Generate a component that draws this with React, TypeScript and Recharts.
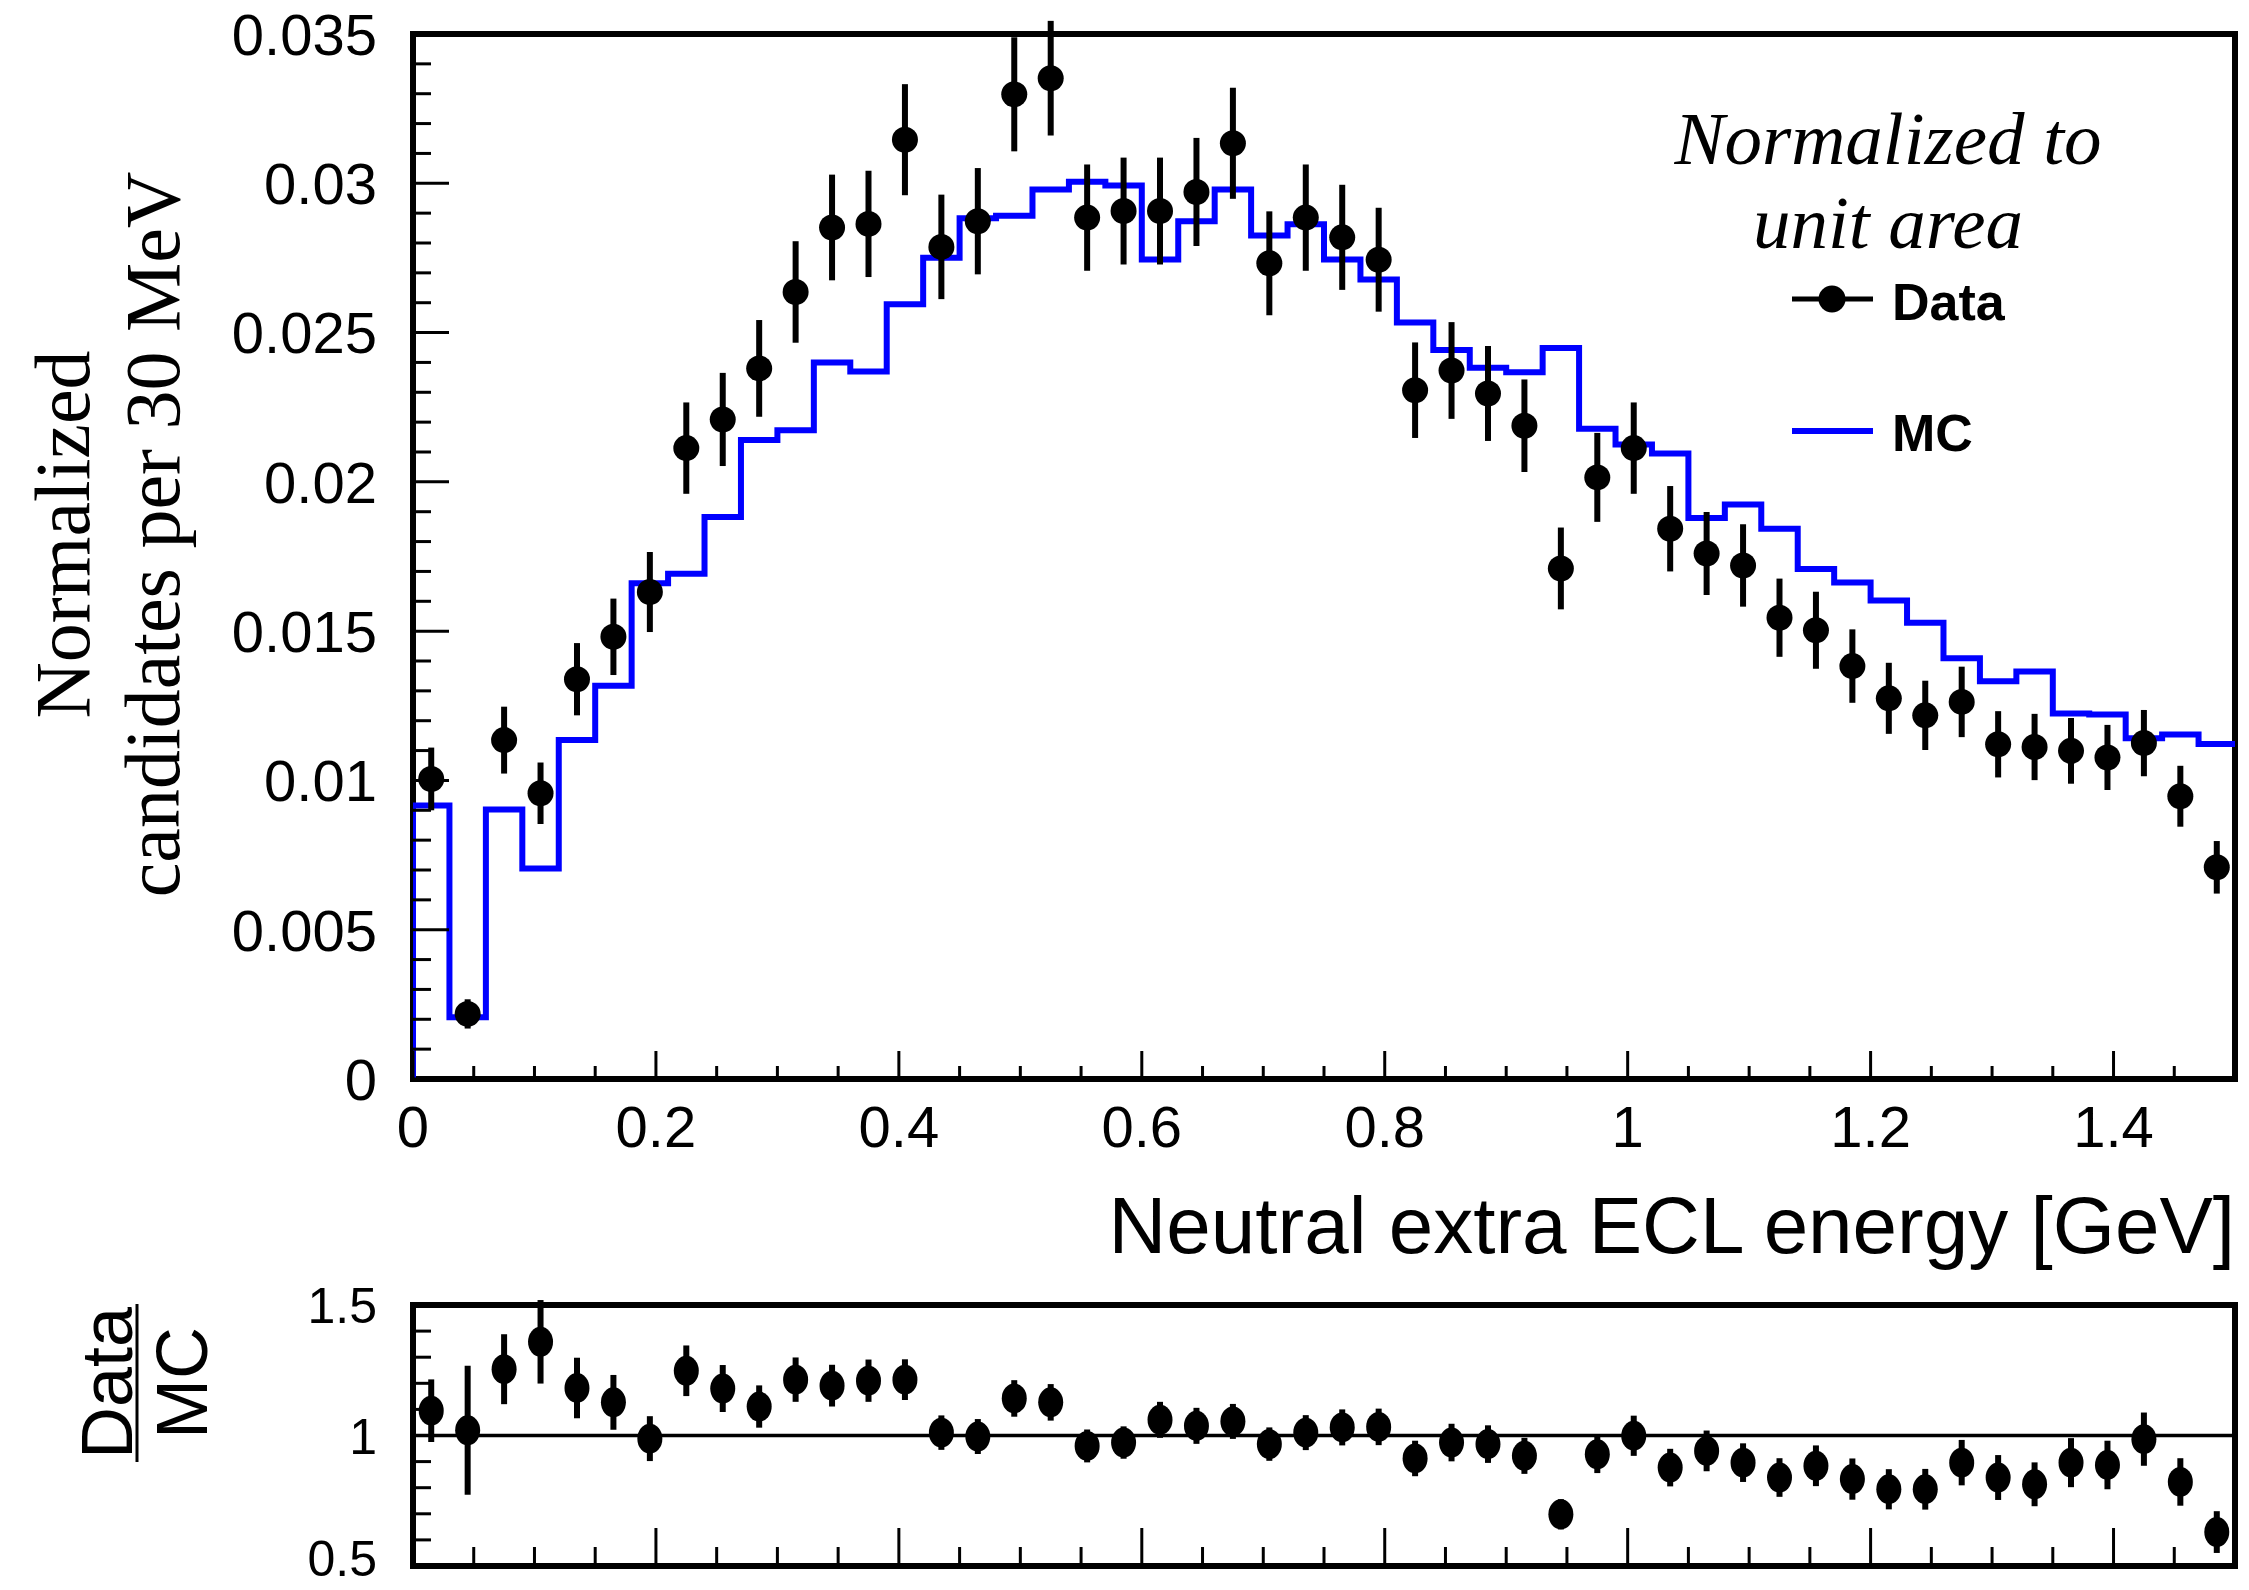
import React from 'react';
import {
  ComposedChart,
  Line,
  Scatter,
  ErrorBar,
  XAxis,
  YAxis,
  ReferenceLine,
  ReferenceArea,
  Legend,
  Label,
} from 'recharts';

// 50 bins of 30 MeV between 0 and 1.5 GeV
const binWidth = 0.03;

const dataValues = [
  0.01005, 0.00218, 0.01135, 0.00957, 0.01339, 0.01481, 0.01631, 0.02113, 0.02209, 0.0238,
  0.02636, 0.02852, 0.02864, 0.03146, 0.02787, 0.02873, 0.03298, 0.03352, 0.02885, 0.02907,
  0.02907, 0.02971, 0.03134, 0.02732, 0.02885, 0.02819, 0.02744, 0.02307, 0.02373, 0.02296,
  0.02188, 0.0171, 0.02015, 0.02113, 0.01843, 0.0176, 0.0172, 0.01545, 0.01503, 0.01383,
  0.01275, 0.01218, 0.01263, 0.01121, 0.01112, 0.01099, 0.01077, 0.01125, 0.00947, 0.00709,
];

const dataErrors = [
  0.00105, 0.00049, 0.00112, 0.00103, 0.00121, 0.00128, 0.00134, 0.00153, 0.00156, 0.00162,
  0.0017, 0.00177, 0.00178, 0.00186, 0.00175, 0.00178, 0.00191, 0.00192, 0.00178, 0.00179,
  0.00179, 0.00181, 0.00186, 0.00174, 0.00178, 0.00176, 0.00174, 0.0016, 0.00162, 0.00159,
  0.00155, 0.00137, 0.00149, 0.00153, 0.00143, 0.00139, 0.00138, 0.00131, 0.00129, 0.00123,
  0.00119, 0.00116, 0.00118, 0.00111, 0.00111, 0.0011, 0.00109, 0.00111, 0.00102, 0.00088,
];

const mcValues = [
  0.00916, 0.00207, 0.00903, 0.00705, 0.01135, 0.01317, 0.0166, 0.01692, 0.01882, 0.0214,
  0.02173, 0.024, 0.0237, 0.02595, 0.02751, 0.02883, 0.02891, 0.02979, 0.03005, 0.02993,
  0.02745, 0.02873, 0.02979, 0.02825, 0.02863, 0.02745, 0.02678, 0.02534, 0.02442, 0.02382,
  0.02367, 0.02448, 0.02178, 0.02125, 0.02095, 0.01879, 0.01924, 0.01843, 0.01708, 0.01663,
  0.01603, 0.01528, 0.01409, 0.01332, 0.01365, 0.01224, 0.01221, 0.01141, 0.01154, 0.01122,
];

const ratioValues = [
  1.095, 1.02, 1.254, 1.359, 1.182, 1.127, 0.988, 1.248, 1.18, 1.111,
  1.214, 1.191, 1.21, 1.214, 1.011, 0.996, 1.142, 1.127, 0.96, 0.973,
  1.06, 1.037, 1.054, 0.967, 1.011, 1.031, 1.033, 0.912, 0.973, 0.967,
  0.922, 0.698, 0.928, 0.999, 0.877, 0.941, 0.896, 0.839, 0.884, 0.833,
  0.794, 0.794, 0.896, 0.839, 0.813, 0.896, 0.887, 0.986, 0.822, 0.63,
];

const ratioErrors = [
  0.12, 0.247, 0.134, 0.16, 0.116, 0.105, 0.086, 0.097, 0.09, 0.081,
  0.085, 0.08, 0.081, 0.078, 0.066, 0.067, 0.07, 0.07, 0.063, 0.062,
  0.069, 0.069, 0.067, 0.064, 0.067, 0.069, 0.07, 0.068, 0.072, 0.072,
  0.069, 0.058, 0.072, 0.077, 0.072, 0.078, 0.074, 0.074, 0.078, 0.079,
  0.077, 0.078, 0.087, 0.086, 0.084, 0.094, 0.093, 0.102, 0.091, 0.08,
];

const xMajorTicks = [0, 0.2, 0.4, 0.6, 0.8, 1, 1.2, 1.4];
const xTickLabels = ['0', '0.2', '0.4', '0.6', '0.8', '1', '1.2', '1.4'];
const yMajorTicks = [0, 0.005, 0.01, 0.015, 0.02, 0.025, 0.03, 0.035];
const yTickLabels = ['0', '0.005', '0.01', '0.015', '0.02', '0.025', '0.03', '0.035'];
const ratioMajorTicks = [0.5, 1, 1.5];
const ratioTickLabels = ['0.5', '1', '1.5'];

// minor tick grids (every 0.05 in x, 0.001 in y, 0.1 in ratio)
const xAllTicks = Array.from({ length: 31 }, (_, i) => Math.round(i * 5) / 100);
const yAllTicks = Array.from({ length: 36 }, (_, i) => i / 1000);
const ratioAllTicks = Array.from({ length: 11 }, (_, i) => Math.round(5 + i) / 10);

const dataPoints = dataValues.map((y, i) => ({
  x: (i + 0.5) * binWidth,
  y,
  err: dataErrors[i],
}));

const ratioPoints = ratioValues.map((y, i) => ({
  x: (i + 0.5) * binWidth,
  y,
  err: ratioErrors[i],
}));

// step outline: rise from 0 at the left edge, then one step per bin
const mcSteps = [
  { x: 0, y: 0 },
  ...mcValues.map((y, i) => ({ x: i * binWidth, y })),
  { x: mcValues.length * binWidth, y: mcValues[mcValues.length - 1] },
];

const SANS = '"Liberation Sans", Arial, Helvetica, sans-serif';
const SERIF = '"Liberation Serif", "Times New Roman", serif';

const majorIndex = (majors: number[], v: number) =>
  majors.findIndex((t) => Math.abs(t - v) < 1e-9);

const makeXTick = (majorLen: number, minorLen: number, labels: string[] | null, fontSize: number) =>
  (props: any) => {
    const { x, y, payload } = props;
    const idx = majorIndex(xMajorTicks, payload.value);
    const len = idx >= 0 ? majorLen : minorLen;
    return (
      <g>
        <line x1={x} x2={x} y1={y} y2={y - len} stroke="#000" strokeWidth={3} />
        {labels && idx >= 0 && (
          <text x={x} y={y + 68} textAnchor="middle" fontFamily={SANS} fontSize={fontSize} fill="#000">
            {labels[idx]}
          </text>
        )}
      </g>
    );
  };

// maxBaseline keeps the lowest label inside the picture
const makeYTick = (
  majors: number[],
  labels: string[],
  majorLen: number,
  minorLen: number,
  fontSize: number,
  maxBaseline: number,
) =>
  (props: any) => {
    const { x, y, payload } = props;
    const idx = majorIndex(majors, payload.value);
    const len = idx >= 0 ? majorLen : minorLen;
    return (
      <g>
        <line x1={x} x2={x + len} y1={y} y2={y} stroke="#000" strokeWidth={3} />
        {idx >= 0 && (
          <text
            x={x - 36}
            y={Math.min(y + fontSize * 0.36, maxBaseline)}
            textAnchor="end"
            fontFamily={SANS}
            fontSize={fontSize}
            fill="#000"
          >
            {labels[idx]}
          </text>
        )}
      </g>
    );
  };

const MainXTick = makeXTick(28, 13, xTickLabels, 58);
const RatioXTick = makeXTick(38, 19, null, 48);
const MainYTick = makeYTick(yMajorTicks, yTickLabels, 36, 18, 58, 2000);
const RatioYTick = makeYTick(ratioMajorTicks, ratioTickLabels, 36, 18, 50, 346);

const XTitle = (props: any) => {
  const { viewBox } = props;
  return (
    <text
      x={viewBox.x + viewBox.width}
      y={viewBox.y + 174}
      textAnchor="end"
      fontFamily={SANS}
      fontSize={80}
      fill="#000"
    >
      Neutral extra ECL energy [GeV]
    </text>
  );
};

const YTitle = (props: any) => {
  const { viewBox } = props;
  const cy = viewBox.y + viewBox.height / 2 - 22;
  return (
    <g fontFamily={SERIF} fontSize={78} fill="#000">
      <text x={89} y={cy} textAnchor="middle" transform={`rotate(-90, 89, ${cy})`}>
        Normalized
      </text>
      <text x={179} y={cy} textAnchor="middle" transform={`rotate(-90, 179, ${cy})`}>
        candidates per 30 MeV
      </text>
    </g>
  );
};

const RatioTitle = (props: any) => {
  const { viewBox } = props;
  const cy = viewBox.y + 78;
  return (
    <g fontFamily={SANS} fontSize={72} fill="#000">
      <text x={132} y={cy} textAnchor="middle" transform={`rotate(-90, 132, ${cy})`}>
        Data
      </text>
      <line x1={137} x2={137} y1={cy - 79} y2={cy + 79} stroke="#000" strokeWidth={3} />
      <text x={207} y={cy} textAnchor="middle" transform={`rotate(-90, 207, ${cy})`}>
        MC
      </text>
    </g>
  );
};

const LegendBox = () => (
  <svg width={540} height={400} style={{ display: 'block', overflow: 'visible' }}>
    <text x={188} y={64} textAnchor="middle" fontFamily={SERIF} fontStyle="italic" fontSize={75} fill="#000">
      Normalized to
    </text>
    <text x={188} y={148} textAnchor="middle" fontFamily={SERIF} fontStyle="italic" fontSize={75} fill="#000">
      unit area
    </text>
    <line x1={92} x2={173} y1={199} y2={199} stroke="#000" strokeWidth={5} />
    <circle cx={132} cy={199} r={13.5} fill="#000" />
    <text x={192} y={220} fontFamily={SANS} fontWeight="bold" fontSize={52} fill="#000">
      Data
    </text>
    <line x1={92} x2={173} y1={331} y2={331} stroke="#0000ff" strokeWidth={6} />
    <text x={192} y={351} fontFamily={SANS} fontWeight="bold" fontSize={52} fill="#000">
      MC
    </text>
  </svg>
);

const MainDot = (props: any) => <circle cx={props.cx} cy={props.cy} r={13} fill="#000" />;
const RatioDot = (props: any) => <ellipse cx={props.cx} cy={props.cy} rx={12.5} ry={15} fill="#000" />;

export default function App() {
  return (
    <div style={{ position: 'absolute', left: 0, top: 0, width: 2249, height: 1590, background: '#fff' }}>
      <div style={{ position: 'absolute', left: 0, top: 0 }}>
        <ComposedChart width={2249} height={1290} margin={{ top: 34, right: 14, left: 0, bottom: 0 }}>
          <XAxis
            dataKey="x"
            type="number"
            domain={[0, 1.5]}
            ticks={xAllTicks}
            interval={0}
            allowDataOverflow
            axisLine={false}
            tickLine={false}
            tickSize={0}
            tickMargin={0}
            height={211}
            tick={MainXTick}
          >
            <Label content={XTitle} />
          </XAxis>
          <YAxis
            type="number"
            domain={[0, 0.035]}
            ticks={yAllTicks}
            interval={0}
            allowDataOverflow
            axisLine={false}
            tickLine={false}
            tickSize={0}
            tickMargin={0}
            width={413}
            tick={MainYTick}
          >
            <Label content={YTitle} />
          </YAxis>
          <Line
            data={mcSteps}
            dataKey="y"
            type="stepAfter"
            stroke="#0000ff"
            strokeWidth={6}
            strokeLinejoin="miter"
            dot={false}
            activeDot={false}
            isAnimationActive={false}
          />
          <Scatter data={dataPoints} dataKey="y" shape={MainDot} isAnimationActive={false}>
            <ErrorBar dataKey="err" direction="y" width={0} stroke="#000" strokeWidth={6} isAnimationActive={false} />
          </Scatter>
          <ReferenceArea
            x1={0}
            x2={1.5}
            y1={0}
            y2={0.035}
            fill="none"
            fillOpacity={0}
            stroke="#000"
            strokeWidth={6}
            ifOverflow="visible"
          />
          <Legend
            layout="vertical"
            align="center"
            verticalAlign="middle"
            content={LegendBox}
            wrapperStyle={{ position: 'absolute', left: 1700, top: 100, width: 540, height: 400 }}
          />
        </ComposedChart>
      </div>
      <div style={{ position: 'absolute', left: 0, top: 1230 }}>
        <ComposedChart width={2249} height={360} margin={{ top: 75, right: 14, left: 0, bottom: 0 }}>
          <XAxis
            dataKey="x"
            type="number"
            domain={[0, 1.5]}
            ticks={xAllTicks}
            interval={0}
            allowDataOverflow
            axisLine={false}
            tickLine={false}
            tickSize={0}
            tickMargin={0}
            height={24}
            tick={RatioXTick}
          />
          <YAxis
            type="number"
            domain={[0.5, 1.5]}
            ticks={ratioAllTicks}
            interval={0}
            allowDataOverflow
            axisLine={false}
            tickLine={false}
            tickSize={0}
            tickMargin={0}
            width={413}
            tick={RatioYTick}
          >
            <Label content={RatioTitle} />
          </YAxis>
          <ReferenceLine y={1} stroke="#000" strokeWidth={3.5} />
          <Scatter data={ratioPoints} dataKey="y" shape={RatioDot} isAnimationActive={false}>
            <ErrorBar dataKey="err" direction="y" width={0} stroke="#000" strokeWidth={6} isAnimationActive={false} />
          </Scatter>
          <ReferenceArea
            x1={0}
            x2={1.5}
            y1={0.5}
            y2={1.5}
            fill="none"
            fillOpacity={0}
            stroke="#000"
            strokeWidth={6}
            ifOverflow="visible"
          />
        </ComposedChart>
      </div>
    </div>
  );
}
